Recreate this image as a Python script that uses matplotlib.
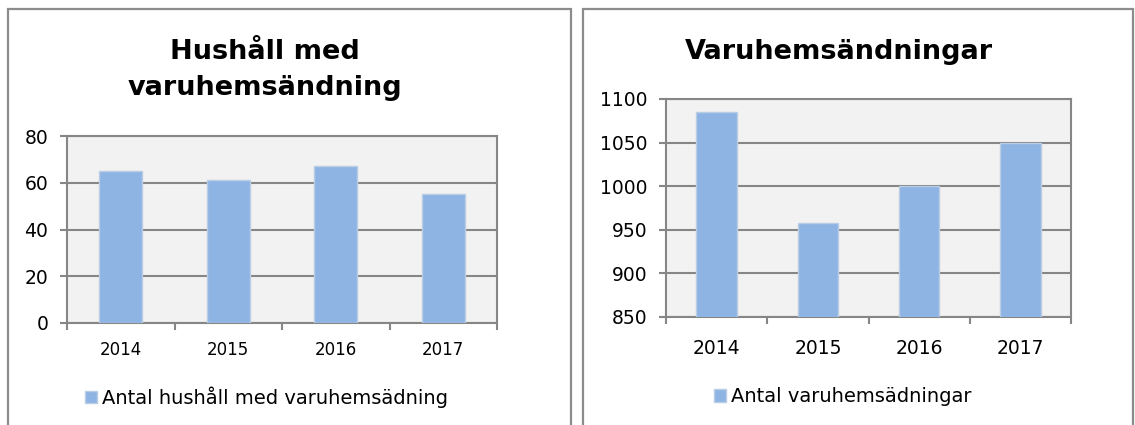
import numpy as np
import matplotlib
matplotlib.use('Agg')
import matplotlib.pyplot as plt
from matplotlib.patches import Rectangle

years = ['2014', '2015', '2016', '2017']
hushall = [65, 61, 67, 55]
sandningar = [1085, 958, 1000, 1049]

W, H = 1135, 425
plt.rcParams['font.family'] = 'DejaVu Sans'

fig = plt.figure(figsize=(W / 100, H / 100), dpi=100)

BAR = '#8EB4E3'
BAR_EDGE = '#B9CDE5'
GRID = '#868686'


def px(x0, y0, x1, y1):
    # pixel box (top-left origin) -> figure fraction rect
    return [x0 / W, 1 - y1 / H, (x1 - x0) / W, (y1 - y0) / H]


def panel(x0, x1):
    fig.patches.append(Rectangle((x0 / W, -0.1), (x1 - x0) / W, 1.1 - 9 / H,
                                 transform=fig.transFigure, fill=False,
                                 edgecolor='#8C8C8C', linewidth=1.6))


def bar_chart(rect, values, ylim, step, xsize, xpad, label, legend_x):
    ax = fig.add_axes(rect)
    ax.set_facecolor('#F2F2F2')
    x = np.arange(len(years))
    bars = ax.bar(x, values, width=0.4, color=BAR, edgecolor=BAR_EDGE,
                  linewidth=1, label=label, zorder=3)
    ax.set_xlim(-0.5, len(years) - 0.5)
    ax.set_ylim(*ylim)
    ax.set_yticks(np.arange(ylim[0], ylim[1] + 1, step))
    ax.grid(axis='y', color=GRID, linewidth=1.5, zorder=1)
    ax.set_axisbelow(True)
    for s in ax.spines.values():
        s.set_color(GRID)
        s.set_linewidth(1.5)
    # category boundary ticks, labels centred between them
    ax.set_xticks(np.arange(-0.5, len(years), 1.0))
    ax.set_xticklabels([])
    ax.set_xticks(x, minor=True)
    ax.set_xticklabels(years, minor=True, fontsize=xsize)
    ax.tick_params(axis='x', which='major', length=5, width=1.5, color=GRID, direction='out')
    ax.tick_params(axis='x', which='minor', length=0, pad=xpad)
    ax.tick_params(axis='y', length=5, width=1.5, color=GRID, labelsize=13.5, pad=8.5)
    ax.legend(handles=[bars], loc='center left',
              bbox_to_anchor=(legend_x / W, 1 - 397 / H),
              bbox_transform=fig.transFigure, frameon=False,
              fontsize=14, borderpad=0, borderaxespad=0,
              handlelength=0.6, handleheight=0.6, handletextpad=0.25)
    return ax


panel(8, 571)
panel(583, 1133)

bar_chart(px(67, 136, 497, 323), hushall, (0, 80), 20, 12, 13,
          'Antal hushåll med varuhemsädning', 85)
bar_chart(px(666, 99, 1071, 317), sandningar, (850, 1100), 50, 13.5, 16,
          'Antal varuhemsädningar', 714)

title_kw = dict(ha='center', va='baseline', fontsize=19.5, fontweight='heavy')
fig.text(265 / W, 1 - 59 / H, 'Hushåll med', **title_kw)
fig.text(265 / W, 1 - 95 / H, 'varuhemsändning', **title_kw)
fig.text(839 / W, 1 - 59 / H, 'Varuhemsändningar', **title_kw)

fig.savefig('out.png', dpi=100)
